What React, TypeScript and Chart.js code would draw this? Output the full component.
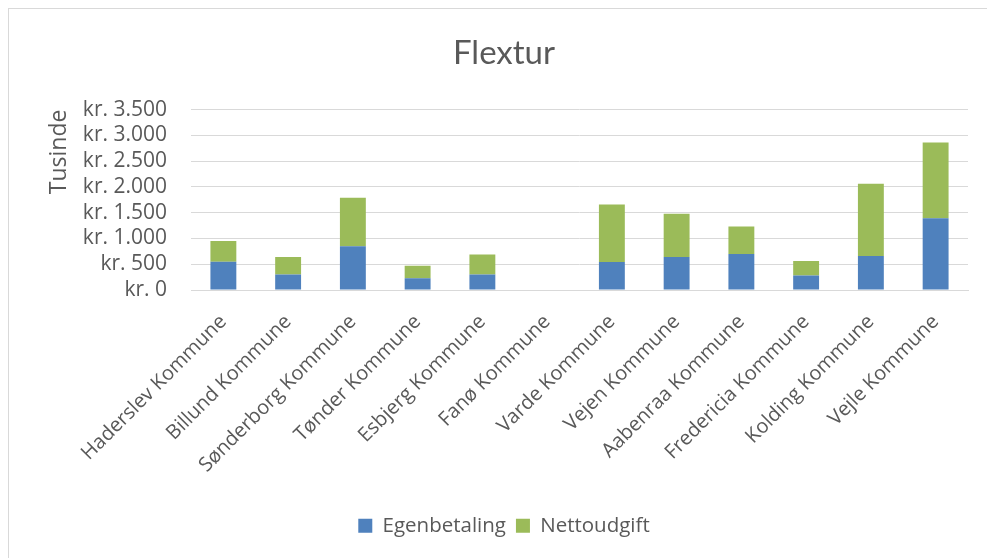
import React, { useEffect, useRef } from "react";
import { Chart, registerables } from "chart.js";

Chart.register(...registerables);

const categories = [
  "Haderslev Kommune",
  "Billund Kommune",
  "Sønderborg Kommune",
  "Tønder Kommune",
  "Esbjerg Kommune",
  "Fanø Kommune",
  "Varde Kommune",
  "Vejen Kommune",
  "Aabenraa Kommune",
  "Fredericia Kommune",
  "Kolding Kommune",
  "Vejle Kommune",
];

const egenbetaling = [550, 300, 850, 230, 300, 0, 545, 640, 700, 280, 660, 1390];
const nettoudgift = [400, 340, 940, 240, 390, 0, 1115, 840, 530, 285, 1400, 1470];

const titleText = "Flextur";
const yAxisTitle = "Tusinde";
const seriesNames = ["Egenbetaling", "Nettoudgift"];

const TITLE_FONT = "Lato, 'Open Sans', sans-serif";
const FONT = "'Open Sans', Lato, sans-serif";
const TEXT = "#595959";
const GRID = "#d9d9d9";

const frame = {
  id: "frame",
  beforeDraw(chart: any) {
    const ctx = chart.ctx;
    ctx.save();
    ctx.fillStyle = "#ffffff";
    ctx.fillRect(0, 0, chart.width, chart.height);
    ctx.strokeStyle = GRID;
    ctx.lineWidth = 1;
    ctx.strokeRect(8.5, 8.5, chart.width + 20, chart.height + 20);
    ctx.restore();
  },
};

function fmt(v: number) {
  return "kr. " + String(v).replace(/\B(?=(\d{3})+(?!\d))/g, ".");
}

export default function App() {
  const ref = useRef<HTMLCanvasElement | null>(null);
  useEffect(() => {
    if (!ref.current) return;
    const chart = new Chart(ref.current, {
      type: "bar",
      data: {
        labels: categories,
        datasets: [
          {
            label: seriesNames[0],
            data: egenbetaling,
            backgroundColor: "#4f81bd",
            barPercentage: 0.4,
            categoryPercentage: 1,
          },
          {
            label: seriesNames[1],
            data: nettoudgift,
            backgroundColor: "#9bbb59",
            barPercentage: 0.4,
            categoryPercentage: 1,
          },
        ],
      },
      options: {
        animation: false,
        responsive: false,
        maintainAspectRatio: false,
        layout: { padding: { left: 40, right: 19, top: 0, bottom: 12 } },
        plugins: {
          title: {
            display: true,
            text: titleText,
            color: TEXT,
            font: { family: TITLE_FONT, size: 33, weight: "normal" },
            padding: { top: 34, bottom: 36 },
          },
          legend: {
            position: "bottom",
            labels: {
              color: TEXT,
              font: { family: FONT, size: 20.5 },
              boxWidth: 14,
              boxHeight: 14,
              padding: 10,
            },
          },
          tooltip: { enabled: false },
        },
        scales: {
          x: {
            stacked: true,
            grid: { display: false },
            border: { display: true, color: GRID, width: 1 },
            ticks: {
              color: TEXT,
              font: { family: FONT, size: 20 },
              minRotation: 45,
              maxRotation: 45,
              padding: 12,
              autoSkip: false,
            },
            afterFit(scale: any) {
              scale.height = 215.5;
            },
          },
          y: {
            stacked: true,
            min: 0,
            max: 3500,
            grid: { color: GRID, lineWidth: 1, drawTicks: false },
            border: { display: false },
            ticks: {
              stepSize: 500,
              autoSkip: false,
              color: TEXT,
              font: { family: FONT, size: 21, lineHeight: 1 },
              padding: 24,
              callback: (v: any) => fmt(Number(v)),
            },
            title: {
              display: true,
              text: yAxisTitle,
              color: TEXT,
              font: { family: FONT, size: 23 },
              align: "end",
              padding: { top: 6, bottom: 0 },
            },
            afterFit(scale: any) {
              scale.width = 151;
            },
          },
        },
      },
      plugins: [frame],
    });
    return () => chart.destroy();
  }, []);
  return (
    <div style={{ position: "absolute", left: 0, top: 0, width: 987, height: 558 }}>
      <canvas ref={ref} width={987} height={558} style={{ display: "block" }} />
    </div>
  );
}
